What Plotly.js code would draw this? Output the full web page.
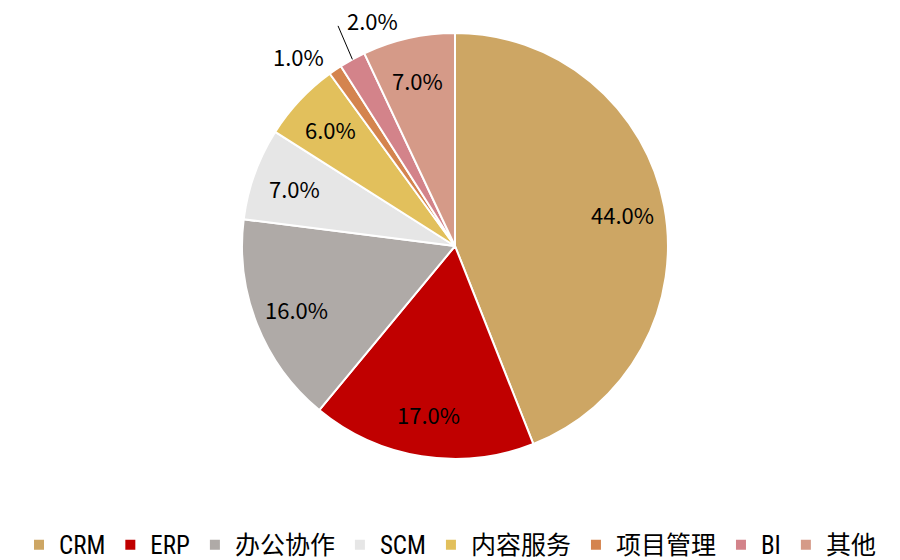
<!DOCTYPE html>
<html><head><meta charset="utf-8">
<script src="https://cdn.plot.ly/plotly-3.0.1.min.js"></script>
<style>html,body{margin:0;padding:0;background:#fff}#c{width:900px;height:560px}</style>
</head><body><div id="c"></div>
<script>
const categories = ["CRM","ERP","办公协作","SCM","内容服务","项目管理","BI","其他"];
const shares = [44,17,16,7,6,1,2,7];
const labelText = ["44.0%","17.0%","16.0%","7.0%","6.0%","1.0%","2.0%","7.0%"];
const colors = ["#CDA664","#C00000","#AFAAA7","#E6E6E6","#E2C05C","#D4844E","#D3838A","#D59A88"];
const labelMode = ["inside","inside","inside","inside","inside","outside","leader","inside"];

const W = 900, H = 560;
const dom = {x: [0.2689, 0.7422], y: [0.1804, 0.941]};
const pctFont = {family: "Noto Sans CJK SC, sans-serif", size: 22, color: "#000"};

const trace = {
  type: "pie",
  labels: categories,
  values: shares,
  textinfo: "none",
  hoverinfo: "label+percent",
  sort: false,
  direction: "clockwise",
  rotation: 0,
  marker: {colors: colors, line: {color: "#ffffff", width: 2}},
  domain: dom,
  automargin: false
};

// label positions derived from the pie geometry and the values
const total = shares.reduce((a, b) => a + b, 0);
const cxPx = (dom.x[0] + dom.x[1]) / 2 * W;
const cyPx = (1 - (dom.y[0] + dom.y[1]) / 2) * H;
const R = Math.min((dom.x[1] - dom.x[0]) * W, (dom.y[1] - dom.y[0]) * H) / 2;
function pt(frac, r) {
  const t = 2 * Math.PI * frac;
  return [cxPx + r * R * Math.sin(t), cyPx - r * R * Math.cos(t)];
}
const toPaper = (p) => [p[0] / W, 1 - p[1] / H];
const annotations = [];
let cum = 0;
shares.forEach((v, i) => {
  const mid = (cum + v / 2) / total;
  cum += v;
  if (labelMode[i] === "inside") {
    const p = toPaper(pt(mid, 0.8));
    annotations.push({x: p[0], y: p[1], xref: "paper", yref: "paper", text: labelText[i],
      showarrow: false, font: pctFont, xanchor: "center", yanchor: "middle"});
  } else if (labelMode[i] === "outside") {
    const p = toPaper(pt(mid, 1.08));
    annotations.push({x: p[0], y: p[1], xref: "paper", yref: "paper", text: labelText[i],
      showarrow: false, font: pctFont, xanchor: "right", yanchor: "middle"});
  } else {
    const head = pt(mid, 1.0);
    const hp = toPaper(head);
    const dx = -15, dy = -35;
    annotations.push({x: hp[0], y: hp[1], xref: "paper", yref: "paper", text: "",
      showarrow: true, ax: dx, ay: dy, arrowhead: 0, arrowwidth: 1, arrowcolor: "#000",
      standoff: 0, startstandoff: 0});
    const tp = toPaper([head[0] + dx + 8, head[1] + dy - 4]);
    annotations.push({x: tp[0], y: tp[1], xref: "paper", yref: "paper", text: labelText[i],
      showarrow: false, font: pctFont, xanchor: "left", yanchor: "middle"});
  }
});

const layout = {
  width: W, height: H,
  margin: {l: 0, r: 0, t: 0, b: 0, autoexpand: false},
  paper_bgcolor: "#fff",
  showlegend: true,
  annotations: annotations,
  legend: {
    orientation: "h", x: 0.5, xanchor: "center", y: 0.068, yanchor: "top",
    font: {family: "Liberation Sans Narrow, Roboto Condensed, DejaVu Sans Condensed, Noto Sans CJK SC, sans-serif", size: 25, color: "#000"},
    itemwidth: 30, tracegroupgap: 0
  }
};
Plotly.newPlot("c", [trace], layout, {displayModeBar: false, staticPlot: true});
</script></body></html>
